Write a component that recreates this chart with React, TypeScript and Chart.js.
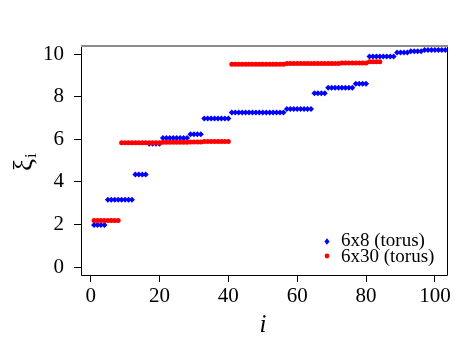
import React, { useEffect, useRef } from "react";
import { Chart, registerables } from "chart.js";

Chart.register(...registerables);

const xTicks = [0, 20, 40, 60, 80, 100];
const yTicks = [0, 2, 4, 6, 8, 10];

const seriesNames = ["6x8 (torus)", "6x30 (torus)"];

const blueValues = [
  1.98, 1.98, 1.98, 1.98,
  3.16, 3.16, 3.16, 3.16, 3.16, 3.16, 3.16, 3.16,
  4.35, 4.35, 4.35, 4.35,
  5.79, 5.79, 5.79, 5.79,
  6.06, 6.06, 6.06, 6.06, 6.06, 6.06, 6.06, 6.06,
  6.24, 6.24, 6.24, 6.24,
  6.98, 6.98, 6.98, 6.98, 6.98, 6.98, 6.98, 6.98,
  7.26, 7.26, 7.26, 7.26, 7.26, 7.26, 7.26, 7.26,
  7.26, 7.26, 7.26, 7.26, 7.26, 7.26, 7.26, 7.26,
  7.42, 7.42, 7.42, 7.42, 7.42, 7.42, 7.42, 7.42,
  8.17, 8.17, 8.17, 8.17,
  8.42, 8.42, 8.42, 8.42, 8.42, 8.42, 8.42, 8.42,
  8.61, 8.61, 8.61, 8.61,
  9.89, 9.89, 9.89, 9.89, 9.89, 9.89, 9.89, 9.89,
  10.08, 10.08, 10.08, 10.08,
  10.14, 10.14, 10.14, 10.14,
  10.2, 10.2, 10.2, 10.2, 10.2, 10.2, 10.2, 10.2,
];

const redValues = [
  2.19, 2.19, 2.19, 2.19, 2.19, 2.19, 2.19, 2.19,
  5.84, 5.84, 5.84, 5.84, 5.84, 5.84, 5.84, 5.84, 5.84, 5.84, 5.84, 5.84,
  5.86, 5.86, 5.86, 5.86, 5.86, 5.86, 5.86, 5.86,
  5.88, 5.88, 5.88, 5.88,
  5.9, 5.9, 5.9, 5.9, 5.9, 5.9, 5.9, 5.9,
  9.53, 9.53, 9.53, 9.53, 9.53, 9.53, 9.53, 9.53,
  9.53, 9.53, 9.53, 9.53, 9.53, 9.53, 9.53, 9.53,
  9.56, 9.56, 9.56, 9.56, 9.56, 9.56, 9.56, 9.56,
  9.56, 9.56, 9.56, 9.56, 9.56, 9.56, 9.56, 9.56,
  9.59, 9.59, 9.59, 9.59, 9.59, 9.59, 9.59, 9.59,
  9.64, 9.64, 9.64, 9.64,
];

const FONT = '"Liberation Serif", "DejaVu Serif", serif';

const decorPlugin = {
  id: "decor",
  afterDraw(chart: any) {
    const ctx = chart.ctx as CanvasRenderingContext2D;
    const { left, right, top, bottom } = chart.chartArea;
    ctx.save();
    // box
    ctx.strokeStyle = "#000";
    ctx.lineWidth = 1;
    ctx.beginPath();
    ctx.moveTo(left + 0.5, top);
    ctx.lineTo(left + 0.5, bottom + 0.5);
    ctx.lineTo(right - 0.5, bottom + 0.5);
    ctx.lineTo(right - 0.5, top);
    ctx.stroke();
    ctx.strokeStyle = "#8c8c8c";
    ctx.lineWidth = 2;
    ctx.beginPath();
    ctx.moveTo(left, top + 1);
    ctx.lineTo(right, top + 1);
    ctx.stroke();

    // legend
    const lx = 327;
    const tx = 341;
    const rows = [241.5, 257];
    ctx.font = `19px ${FONT}`;
    ctx.textBaseline = "middle";
    ctx.textAlign = "left";
    ctx.fillStyle = "#0000ff";
    ctx.beginPath();
    ctx.moveTo(lx, rows[0] - 3.2);
    ctx.lineTo(lx + 2.6, rows[0]);
    ctx.lineTo(lx, rows[0] + 3.2);
    ctx.lineTo(lx - 2.6, rows[0]);
    ctx.closePath();
    ctx.fill();
    ctx.fillStyle = "#ff0000";
    ctx.beginPath();
    ctx.arc(lx, rows[1] - 1, 2.4, 0, Math.PI * 2);
    ctx.fill();
    ctx.fillStyle = "#000";
    ctx.fillText(seriesNames[0], tx, rows[0]);
    ctx.fillText(seriesNames[1], tx, rows[1]);

    // x title
    ctx.font = `italic 25px ${FONT}`;
    ctx.textAlign = "center";
    ctx.textBaseline = "alphabetic";
    ctx.fillText("i", 263, 332);

    // y title (rotated)
    ctx.translate(32, 160);
    ctx.rotate(-Math.PI / 2);
    ctx.textAlign = "left";
    ctx.font = `27px ${FONT}`;
    ctx.fillText("ξ", -11, 0);
    ctx.font = `17px ${FONT}`;
    ctx.fillText("i", 2, 4);
    ctx.restore();
  },
};

export default function App() {
  const ref = useRef<HTMLCanvasElement | null>(null);
  useEffect(() => {
    if (!ref.current) return;
    const blueData = blueValues.map((v, i) => ({ x: i + 1, y: v }));
    const redData = redValues.map((v, i) => ({ x: i + 1, y: v }));
    const chart = new Chart(ref.current, {
      type: "scatter",
      data: {
        datasets: [
          {
            label: seriesNames[0],
            data: blueData,
            pointStyle: "rectRot",
            pointRadius: 3,
            backgroundColor: "#0000ff",
            borderColor: "#0000ff",
            borderWidth: 0,
            order: 2,
          },
          {
            label: seriesNames[1],
            data: redData,
            pointStyle: "circle",
            pointRadius: 2.5,
            backgroundColor: "#ff0000",
            borderColor: "#ff0000",
            borderWidth: 0,
            order: 1,
          },
        ],
      },
      options: {
        animation: false,
        responsive: false,
        devicePixelRatio: 1,
        layout: { padding: { left: 0, top: 45, right: 12, bottom: 0 } },
        plugins: {
          legend: { display: false },
          tooltip: { enabled: false },
        },
        scales: {
          x: {
            type: "linear",
            min: -2.8,
            max: 103.8,
            afterBuildTicks: (s: any) => {
              s.ticks = xTicks.map((v) => ({ value: v }));
            },
            afterFit: (s: any) => {
              s.height = 70;
            },
            grid: {
              display: true,
              drawOnChartArea: false,
              drawTicks: true,
              tickLength: 7,
              color: "#000",
            },
            border: { display: false },
            ticks: {
              color: "#000",
              padding: 2,
              maxRotation: 0,
              font: { family: FONT, size: 21 },
            },
          },
          y: {
            type: "linear",
            min: -0.37,
            max: 10.43,
            afterBuildTicks: (s: any) => {
              s.ticks = yTicks.map((v) => ({ value: v }));
            },
            afterFit: (s: any) => {
              s.width = 81;
            },
            grid: {
              display: true,
              drawOnChartArea: false,
              drawTicks: true,
              tickLength: 7,
              color: "#000",
            },
            border: { display: false },
            ticks: {
              color: "#000",
              padding: 10,
              font: { family: FONT, size: 21 },
            },
          },
        },
      },
      plugins: [decorPlugin],
    });
    return () => chart.destroy();
  }, []);
  return (
    <div style={{ position: "fixed", left: 0, top: 0, width: 460, height: 345, background: "#fff" }}>
      <canvas ref={ref} width={460} height={345} />
    </div>
  );
}
